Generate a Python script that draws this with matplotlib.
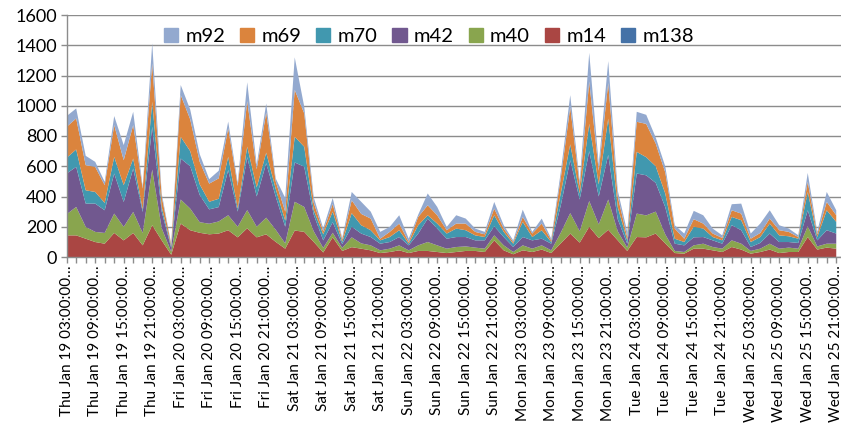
import matplotlib
matplotlib.use("Agg")
import matplotlib.pyplot as plt
from matplotlib.patches import Patch
import numpy as np

# ---- values, one point every 2 hours from Thu Jan 19 03:00 ----
m138 = [0, 0, 0, 0, 0, 0, 0, 0, 0, 0, 0, 0, 0, 0, 0, 0, 0, 0, 0, 0,
        0, 0, 0, 0, 0, 0, 0, 0, 0, 0, 0, 0, 0, 0, 0, 0, 0, 0, 0, 0,
        0, 0, 0, 0, 0, 0, 0, 0, 0, 0, 0, 0, 0, 0, 0, 0, 0, 0, 0, 0,
        0, 0, 0, 0, 0, 0, 0, 0, 0, 0, 0, 0, 0, 0, 0, 0, 0, 0, 0, 0,
        0, 0]
m14 = [143, 143, 121, 99, 88, 159, 110, 159, 77, 210, 110, 15, 221, 177, 160, 150, 155, 177, 130, 190,
       130, 150, 100, 55, 175, 166, 100, 30, 130, 40, 65, 55, 44, 26, 33, 44, 26, 40, 40, 33,
       26, 33, 40, 40, 33, 110, 44, 18, 44, 33, 49, 26, 90, 155, 95, 200, 125, 180, 110, 40,
       132, 130, 155, 90, 26, 22, 55, 55, 44, 33, 66, 49, 22, 33, 49, 26, 33, 33, 132, 49,
       62, 55]
m40 = [140, 188, 78, 67, 71, 128, 89, 139, 82, 368, 80, 20, 159, 143, 70, 70, 80, 99, 70, 120,
       70, 110, 80, 35, 190, 165, 70, 30, 30, 20, 65, 35, 33, 18, 22, 33, 18, 37, 59, 44,
       29, 33, 30, 22, 22, 33, 33, 15, 33, 22, 28, 18, 70, 135, 75, 170, 90, 200, 60, 22,
       155, 145, 145, 60, 14, 11, 22, 33, 22, 22, 44, 39, 18, 22, 39, 29, 29, 22, 71, 21,
       26, 33]
m42 = [269, 265, 154, 187, 150, 265, 165, 287, 139, 283, 110, 25, 271, 280, 180, 95, 95, 299, 100, 350,
       200, 360, 220, 110, 260, 266, 110, 50, 70, 25, 70, 65, 55, 44, 44, 55, 33, 78, 155, 111,
       66, 66, 62, 48, 55, 60, 55, 33, 55, 55, 44, 44, 180, 350, 210, 330, 185, 295, 80, 26,
       265, 265, 190, 180, 48, 44, 53, 44, 44, 33, 100, 89, 26, 38, 67, 44, 37, 38, 106, 40,
       89, 67]
m70 = [104, 115, 88, 77, 49, 110, 111, 66, 15, 165, 30, 12, 144, 100, 70, 50, 55, 88, 20, 70,
       60, 70, 50, 40, 170, 132, 30, 40, 70, 15, 90, 55, 45, 22, 33, 45, 11, 55, 22, 33,
       34, 56, 45, 33, 22, 73, 34, 22, 100, 22, 56, 11, 80, 105, 40, 180, 80, 240, 80, 22,
       143, 120, 110, 90, 33, 22, 70, 56, 22, 22, 55, 66, 33, 39, 66, 44, 38, 28, 121, 22,
       132, 77]
m69 = [205, 205, 166, 166, 117, 210, 165, 221, 139, 254, 70, 10, 276, 210, 150, 120, 135, 188, 150, 300,
       120, 265, 50, 60, 310, 221, 50, 20, 50, 15, 85, 75, 77, 11, 34, 44, 11, 55, 66, 55,
       22, 33, 44, 23, 18, 44, 22, 11, 33, 23, 44, 11, 100, 245, 50, 280, 90, 235, 70, 22,
       199, 220, 150, 140, 67, 22, 50, 33, 23, 16, 44, 44, 22, 27, 33, 34, 29, 11, 67, 18,
       55, 44]
m92 = [71, 66, 62, 33, 22, 60, 100, 88, 12, 133, 20, 6, 66, 65, 50, 30, 50, 44, 20, 125,
       30, 60, 20, 90, 215, 45, 35, 20, 40, 10, 55, 80, 46, 45, 33, 55, 22, 15, 78, 55,
       22, 55, 33, 22, 16, 44, 22, 11, 48, 11, 33, 11, 40, 80, 30, 190, 40, 145, 40, 34,
       66, 60, 40, 40, 22, 34, 55, 55, 33, 17, 40, 66, 34, 62, 55, 33, 22, 12, 59, 16,
       66, 33]

# every third category carries a label (6 hours apart)
tick_labels = [
    "Thu Jan 19 03:00:00…", "Thu Jan 19 09:00:00…", "Thu Jan 19 15:00:00…", "Thu Jan 19 21:00:00…",
    "Fri Jan 20 03:00:00…", "Fri Jan 20 09:00:00…", "Fri Jan 20 15:00:00…", "Fri Jan 20 21:00:00…",
    "Sat Jan 21 03:00:00…", "Sat Jan 21 09:00:00…", "Sat Jan 21 15:00:00…", "Sat Jan 21 21:00:00…",
    "Sun Jan 22 03:00:00…", "Sun Jan 22 09:00:00…", "Sun Jan 22 15:00:00…", "Sun Jan 22 21:00:00…",
    "Mon Jan 23 03:00:00…", "Mon Jan 23 09:00:00…", "Mon Jan 23 15:00:00…", "Mon Jan 23 21:00:00…",
    "Tue Jan 24 03:00:00…", "Tue Jan 24 09:00:00…", "Tue Jan 24 15:00:00…", "Tue Jan 24 21:00:00…",
    "Wed Jan 25 03:00:00…", "Wed Jan 25 09:00:00…", "Wed Jan 25 15:00:00…", "Wed Jan 25 21:00:00…",
]
LABEL_STEP = 3

names = ["m138", "m14", "m40", "m42", "m70", "m69", "m92"]
colors = ["#4572A7", "#AA4643", "#89A54E", "#71588F", "#4198AF", "#DB843D", "#93A9CF"]
GRID = "#8C8C8C"

plt.rcParams["font.family"] = ["Lato", "DejaVu Sans"]

fig = plt.figure(figsize=(8.41, 4.24), dpi=100)
ax = fig.add_axes([66.7 / 841, 1 - 257 / 424, (841 - 66.7) / 841, (257 - 15) / 424])

x = np.arange(len(m14))
ax.stackplot(x, m138, m14, m40, m42, m70, m69, m92, colors=colors, linewidth=0)

ax.set_xlim(0, 81.5)
ax.set_ylim(0, 1600)
ax.set_yticks(range(0, 1601, 200))
ax.yaxis.grid(True, color=GRID, linewidth=1.0)
ax.set_axisbelow(True)

ax.set_xticks(x)
labels = [""] * len(x)
for k, lab in enumerate(tick_labels):
    if k * LABEL_STEP < len(x):
        labels[k * LABEL_STEP] = lab
ax.set_xticklabels(labels, rotation=90, fontsize=11)

for side in ["top", "right"]:
    ax.spines[side].set_visible(False)
for side in ["left", "bottom"]:
    ax.spines[side].set_color(GRID)
    ax.spines[side].set_linewidth(1.0)
ax.tick_params(axis="both", colors=GRID, length=4, width=1.0, labelcolor="black")
ax.tick_params(axis="y", labelsize=13, pad=3)
ax.tick_params(axis="x", pad=2)

handles = [Patch(color=c, label=n) for n, c in zip(names, colors)][::-1]
ax.legend(handles=handles, ncol=7, loc="center", bbox_to_anchor=(429 / 841, 1 - 36.5 / 424),
          bbox_transform=fig.transFigure, frameon=False, fontsize=14.5,
          handlelength=0.7, handleheight=0.7, handletextpad=0.35, columnspacing=0.75)

fig.savefig("out.png", dpi=100)
